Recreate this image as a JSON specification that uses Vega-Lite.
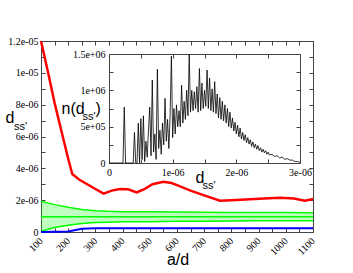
{
  "$schema": "https://vega.github.io/schema/vega-lite/v6.json",
  "width": 272,
  "height": 191,
  "autosize": {"type": "none"},
  "padding": {"left": 41, "top": 41, "right": 40, "bottom": 41},
  "background": "white",
  "config": {
    "view": {"stroke": null},
    "axis": {
      "grid": false,
      "domainColor": "#444",
      "domainWidth": 1,
      "tickColor": "#444",
      "tickSize": -4,
      "labelFont": "Liberation Serif",
      "labelFontSize": 10,
      "labelColor": "black",
      "labelPadding": 8,
      "titleFont": "Liberation Sans",
      "titleFontWeight": "normal",
      "titleFontSize": 16,
      "titleColor": "black",
      "titleAngle": 0,
      "titleAlign": "left",
      "titleBaseline": "alphabetic"
    }
  },
  "datasets": {
    "red": [
      {"a": 100, "v": 12.0e-6}, {"a": 125, "v": 10.1e-6}, {"a": 150, "v": 8.1e-6}, {"a": 180, "v": 6.0e-6},
      {"a": 200, "v": 4.6e-6}, {"a": 215, "v": 3.64e-6}, {"a": 240, "v": 3.3e-6}, {"a": 273, "v": 2.97e-6},
      {"a": 300, "v": 2.7e-6}, {"a": 330, "v": 2.41e-6}, {"a": 360, "v": 2.6e-6}, {"a": 390, "v": 2.7e-6},
      {"a": 420, "v": 2.68e-6}, {"a": 452, "v": 2.49e-6}, {"a": 480, "v": 2.7e-6}, {"a": 510, "v": 3.0e-6},
      {"a": 550, "v": 3.16e-6}, {"a": 580, "v": 3.08e-6}, {"a": 600, "v": 2.95e-6}, {"a": 650, "v": 2.6e-6},
      {"a": 700, "v": 2.3e-6}, {"a": 758, "v": 1.97e-6}, {"a": 800, "v": 2.0e-6}, {"a": 868, "v": 2.05e-6},
      {"a": 920, "v": 2.1e-6}, {"a": 979, "v": 2.15e-6}, {"a": 1030, "v": 2.1e-6}, {"a": 1070, "v": 1.97e-6},
      {"a": 1100, "v": 2.07e-6}
    ],
    "green": [
      {"a": 100, "lo": 0.05e-6, "mid": 0.96e-6, "hi": 1.93e-6},
      {"a": 150, "lo": 0.28e-6, "mid": 0.96e-6, "hi": 1.72e-6},
      {"a": 200, "lo": 0.42e-6, "mid": 0.96e-6, "hi": 1.55e-6},
      {"a": 250, "lo": 0.53e-6, "mid": 0.96e-6, "hi": 1.42e-6},
      {"a": 300, "lo": 0.59e-6, "mid": 0.96e-6, "hi": 1.34e-6},
      {"a": 350, "lo": 0.62e-6, "mid": 0.96e-6, "hi": 1.30e-6},
      {"a": 400, "lo": 0.64e-6, "mid": 0.96e-6, "hi": 1.28e-6},
      {"a": 500, "lo": 0.65e-6, "mid": 0.96e-6, "hi": 1.27e-6},
      {"a": 600, "lo": 0.67e-6, "mid": 0.96e-6, "hi": 1.25e-6},
      {"a": 700, "lo": 0.68e-6, "mid": 0.96e-6, "hi": 1.24e-6},
      {"a": 800, "lo": 0.69e-6, "mid": 0.96e-6, "hi": 1.23e-6},
      {"a": 900, "lo": 0.70e-6, "mid": 0.96e-6, "hi": 1.22e-6},
      {"a": 1000, "lo": 0.70e-6, "mid": 0.96e-6, "hi": 1.22e-6},
      {"a": 1100, "lo": 0.71e-6, "mid": 0.96e-6, "hi": 1.21e-6}
    ],
    "blue": [
      {"a": 100, "v": 0}, {"a": 150, "v": 0.01e-6}, {"a": 200, "v": 0.03e-6}, {"a": 250, "v": 0.21e-6},
      {"a": 300, "v": 0.23e-6}, {"a": 1100, "v": 0.23e-6}
    ],
    "hist": [
      {"d": 0, "n": 0}, {"d": 0.22e-6, "n": 0}, {"d": 0.24e-6, "n": 0.77e6}, {"d": 0.26e-6, "n": 0},
      {"d": 0.38e-6, "n": 0}, {"d": 0.40e-6, "n": 0.42e6}, {"d": 0.42e-6, "n": 0}, {"d": 0.44e-6, "n": 0},
      {"d": 0.46e-6, "n": 0.55e6}, {"d": 0.48e-6, "n": 0}, {"d": 0.50e-6, "n": 0.61e6}, {"d": 0.52e-6, "n": 0.05e6},
      {"d": 0.54e-6, "n": 0.65e6}, {"d": 0.56e-6, "n": 0.02e6}, {"d": 0.58e-6, "n": 0.3e6}, {"d": 0.60e-6, "n": 0.08e6},
      {"d": 0.62e-6, "n": 0.45e6}, {"d": 0.64e-6, "n": 0.77e6}, {"d": 0.66e-6, "n": 0.1e6}, {"d": 0.68e-6, "n": 1.14e6},
      {"d": 0.70e-6, "n": 0.15e6}, {"d": 0.72e-6, "n": 0.4e6}, {"d": 0.74e-6, "n": 0.05e6}, {"d": 0.76e-6, "n": 1.29e6},
      {"d": 0.78e-6, "n": 0.2e6}, {"d": 0.80e-6, "n": 0.45e6}, {"d": 0.82e-6, "n": 0.12e6}, {"d": 0.84e-6, "n": 0.55e6},
      {"d": 0.86e-6, "n": 0.25e6}, {"d": 0.88e-6, "n": 0.89e6}, {"d": 0.90e-6, "n": 0.3e6}, {"d": 0.92e-6, "n": 0.6e6},
      {"d": 0.94e-6, "n": 0.2e6}, {"d": 0.96e-6, "n": 0.65e6}, {"d": 0.98e-6, "n": 1.47e6}, {"d": 1.00e-6, "n": 0.35e6},
      {"d": 1.02e-6, "n": 0.75e6}, {"d": 1.04e-6, "n": 0.4e6}, {"d": 1.06e-6, "n": 0.8e6}, {"d": 1.08e-6, "n": 0.5e6},
      {"d": 1.10e-6, "n": 0.72e6}, {"d": 1.12e-6, "n": 0.5e6}, {"d": 1.14e-6, "n": 1.07e6}, {"d": 1.16e-6, "n": 0.55e6},
      {"d": 1.18e-6, "n": 0.85e6}, {"d": 1.20e-6, "n": 0.6e6}, {"d": 1.22e-6, "n": 1.0e6}, {"d": 1.24e-6, "n": 0.65e6},
      {"d": 1.26e-6, "n": 1.49e6}, {"d": 1.28e-6, "n": 0.7e6}, {"d": 1.30e-6, "n": 1.0e6}, {"d": 1.32e-6, "n": 0.72e6},
      {"d": 1.34e-6, "n": 0.98e6}, {"d": 1.36e-6, "n": 0.75e6}, {"d": 1.38e-6, "n": 1.05e6}, {"d": 1.40e-6, "n": 0.7e6},
      {"d": 1.42e-6, "n": 1.30e6}, {"d": 1.44e-6, "n": 0.72e6}, {"d": 1.46e-6, "n": 1.1e6}, {"d": 1.48e-6, "n": 0.75e6},
      {"d": 1.50e-6, "n": 1.0e6}, {"d": 1.52e-6, "n": 0.78e6}, {"d": 1.54e-6, "n": 1.28e6}, {"d": 1.56e-6, "n": 0.75e6},
      {"d": 1.58e-6, "n": 1.17e6}, {"d": 1.60e-6, "n": 0.72e6}, {"d": 1.62e-6, "n": 1.02e6}, {"d": 1.64e-6, "n": 0.7e6},
      {"d": 1.66e-6, "n": 1.12e6}, {"d": 1.68e-6, "n": 0.68e6}, {"d": 1.70e-6, "n": 0.95e6}, {"d": 1.72e-6, "n": 0.62e6},
      {"d": 1.74e-6, "n": 0.9e6}, {"d": 1.76e-6, "n": 0.6e6}, {"d": 1.78e-6, "n": 0.85e6}, {"d": 1.80e-6, "n": 0.58e6},
      {"d": 1.82e-6, "n": 0.8e6}, {"d": 1.84e-6, "n": 0.55e6}, {"d": 1.86e-6, "n": 0.75e6}, {"d": 1.88e-6, "n": 0.5e6},
      {"d": 1.90e-6, "n": 0.7e6}, {"d": 1.92e-6, "n": 0.48e6}, {"d": 1.94e-6, "n": 0.62e6}, {"d": 1.96e-6, "n": 0.44e6},
      {"d": 1.98e-6, "n": 0.56e6}, {"d": 2.00e-6, "n": 0.40e6}, {"d": 2.02e-6, "n": 0.52e6}, {"d": 2.04e-6, "n": 0.36e6},
      {"d": 2.06e-6, "n": 0.48e6}, {"d": 2.08e-6, "n": 0.33e6}, {"d": 2.10e-6, "n": 0.42e6}, {"d": 2.12e-6, "n": 0.31e6},
      {"d": 2.14e-6, "n": 0.39e6}, {"d": 2.16e-6, "n": 0.28e6}, {"d": 2.18e-6, "n": 0.35e6}, {"d": 2.20e-6, "n": 0.26e6},
      {"d": 2.22e-6, "n": 0.32e6}, {"d": 2.24e-6, "n": 0.23e6}, {"d": 2.26e-6, "n": 0.29e6}, {"d": 2.28e-6, "n": 0.21e6},
      {"d": 2.30e-6, "n": 0.26e6}, {"d": 2.32e-6, "n": 0.19e6}, {"d": 2.34e-6, "n": 0.24e6}, {"d": 2.36e-6, "n": 0.17e6},
      {"d": 2.38e-6, "n": 0.21e6}, {"d": 2.40e-6, "n": 0.15e6}, {"d": 2.42e-6, "n": 0.19e6}, {"d": 2.44e-6, "n": 0.14e6},
      {"d": 2.46e-6, "n": 0.17e6}, {"d": 2.48e-6, "n": 0.12e6}, {"d": 2.50e-6, "n": 0.15e6}, {"d": 2.52e-6, "n": 0.11e6},
      {"d": 2.56e-6, "n": 0.12e6}, {"d": 2.60e-6, "n": 0.09e6}, {"d": 2.64e-6, "n": 0.10e6}, {"d": 2.68e-6, "n": 0.07e6},
      {"d": 2.72e-6, "n": 0.08e6}, {"d": 2.76e-6, "n": 0.05e6}, {"d": 2.80e-6, "n": 0.06e6}, {"d": 2.84e-6, "n": 0.04e6},
      {"d": 2.88e-6, "n": 0.04e6}, {"d": 2.92e-6, "n": 0.02e6}, {"d": 2.96e-6, "n": 0.02e6}, {"d": 3.00e-6, "n": 0.01e6}
    ]
  },
  "layer": [
    {
      "data": {"name": "green"},
      "mark": {"type": "area", "color": "#00ff00", "opacity": 0.25},
      "encoding": {
        "x": {
          "field": "a", "type": "quantitative",
          "scale": {"domain": [100, 1100], "nice": false, "zero": false},
          "axis": {
            "orient": "bottom",
            "values": [100, 150, 200, 250, 300, 350, 400, 450, 500, 550, 600, 650, 700, 750, 800, 850, 900, 950, 1000, 1050, 1100],
            "labelExpr": "datum.value % 100 == 0 ? format(datum.value, 'd') : ''",
            "labelAngle": -45,
            "labelAlign": "right",
            "labelBaseline": "middle",
            "labelPadding": 11,
            "title": "a/d",
            "titleAlign": "center",
            "titleX": 136.5,
            "titleY": 32
          }
        },
        "y": {
          "field": "lo", "type": "quantitative",
          "scale": {"domain": [0, 1.2e-5], "nice": false, "zero": false},
          "axis": {
            "orient": "left",
            "values": [0, 0.000001, 0.000002, 0.000003, 0.000004, 0.000005, 0.000006, 0.000007, 0.000008, 0.000009, 0.00001, 0.000011, 0.000012],
            "labelExpr": "datum.value == 0 ? '0' : (round(datum.value * 1e6) % 2 == 0 ? replace(format(datum.value, '.2~e'), 'e-', 'e-0') : '')",
            "labelPadding": 7,
            "title": "d",
            "titleX": -36,
            "titleY": 81.5
          }
        },
        "y2": {"field": "hi"}
      }
    },
    {
      "data": {"name": "green"},
      "mark": {"type": "line", "color": "#00ff00", "strokeWidth": 1.5},
      "encoding": {
        "x": {"field": "a", "type": "quantitative", "scale": {"domain": [100, 1100], "nice": false, "zero": false}, "axis": null},
        "y": {"field": "lo", "type": "quantitative", "scale": {"domain": [0, 1.2e-5], "nice": false, "zero": false}, "axis": null}
      }
    },
    {
      "data": {"name": "green"},
      "mark": {"type": "line", "color": "#00ff00", "strokeWidth": 1.5},
      "encoding": {
        "x": {"field": "a", "type": "quantitative", "scale": {"domain": [100, 1100], "nice": false, "zero": false}, "axis": null},
        "y": {"field": "mid", "type": "quantitative", "scale": {"domain": [0, 1.2e-5], "nice": false, "zero": false}, "axis": null}
      }
    },
    {
      "data": {"name": "green"},
      "mark": {"type": "line", "color": "#00ff00", "strokeWidth": 1.5},
      "encoding": {
        "x": {"field": "a", "type": "quantitative", "scale": {"domain": [100, 1100], "nice": false, "zero": false}, "axis": null},
        "y": {"field": "hi", "type": "quantitative", "scale": {"domain": [0, 1.2e-5], "nice": false, "zero": false}, "axis": null}
      }
    },
    {
      "data": {"name": "red"},
      "mark": {"type": "line", "color": "#ff0000", "strokeWidth": 2.5},
      "encoding": {
        "x": {"field": "a", "type": "quantitative", "scale": {"domain": [100, 1100], "nice": false, "zero": false}, "axis": null},
        "y": {"field": "v", "type": "quantitative", "scale": {"domain": [0, 1.2e-5], "nice": false, "zero": false}, "axis": null}
      }
    },
    {
      "data": {"name": "blue"},
      "mark": {"type": "line", "color": "#0000ff", "strokeWidth": 2},
      "encoding": {
        "x": {
          "field": "a", "type": "quantitative",
          "scale": {"domain": [100, 1100], "nice": false, "zero": false},
          "axis": {
            "orient": "top",
            "values": [100, 150, 200, 250, 300, 350, 400, 450, 500, 550, 600, 650, 700, 750, 800, 850, 900, 950, 1000, 1050, 1100],
            "labels": false,
            "title": "ss'",
            "titleFontSize": 11,
            "titleX": -27.5,
            "titleY": 88
          }
        },
        "y": {
          "field": "v", "type": "quantitative",
          "scale": {"domain": [0, 1.2e-5], "nice": false, "zero": false},
          "axis": {
            "orient": "right",
            "values": [0, 0.000001, 0.000002, 0.000003, 0.000004, 0.000005, 0.000006, 0.000007, 0.000008, 0.000009, 0.00001, 0.000011, 0.000012],
            "labels": false,
            "title": "ss'",
            "titleFontSize": 11,
            "titleX": -111,
            "titleY": 147
          }
        }
      }
    },
    {
      "data": {"name": "hist"},
      "mark": {"type": "line", "color": "black", "strokeWidth": 0.8},
      "encoding": {
        "x": {
          "field": "d", "type": "quantitative",
          "scale": {"domain": [0, 3e-6], "range": [68, 259], "nice": false, "zero": false},
          "axis": {
            "orient": "bottom",
            "offset": -69,
            "values": [0, 5e-7, 1e-6, 1.5e-6, 2e-6, 2.5e-6, 3e-6],
            "labelExpr": "datum.value == 0 ? '0' : (round(datum.value * 2e6) % 2 == 0 ? replace(format(datum.value, '.0e'), 'e-', 'e-0') : '')",
            "labelPadding": 8,
            "labelFlush": false,
            "title": "d",
            "titleX": 154,
            "titleY": 19
          }
        },
        "y": {
          "field": "n", "type": "quantitative",
          "scale": {"domain": [0, 1.5e6], "range": [122, 13], "nice": false, "zero": false},
          "axis": {
            "orient": "left",
            "offset": -68,
            "values": [0, 250000, 500000, 750000, 1000000, 1250000, 1500000],
            "labelExpr": "datum.value == 0 ? '0' : (datum.value % 500000 == 0 ? replace(format(datum.value, '.2~e'), 'e+', 'e+0') : '')",
            "labelPadding": 8,
            "labelFlush": false,
            "title": "n(d",
            "titleX": -48,
            "titleY": 72
          }
        }
      }
    },
    {
      "data": {"name": "hist"},
      "mark": {"type": "point", "opacity": 0},
      "encoding": {
        "x": {
          "field": "d", "type": "quantitative",
          "scale": {"domain": [0, 3e-6], "range": [68, 259], "nice": false, "zero": false},
          "axis": {
            "orient": "top",
            "offset": -13,
            "values": [0, 5e-7, 1e-6, 1.5e-6, 2e-6, 2.5e-6, 3e-6],
            "labels": false,
            "title": "ss'",
            "titleFontSize": 11,
            "titleX": 41,
            "titleY": 65
          }
        },
        "y": {
          "field": "n", "type": "quantitative",
          "scale": {"domain": [0, 1.5e6], "range": [122, 13], "nice": false, "zero": false},
          "axis": {
            "orient": "right",
            "offset": -13,
            "values": [0, 250000, 500000, 750000, 1000000, 1250000, 1500000],
            "labels": false,
            "title": ")",
            "titleX": -205,
            "titleY": 72
          }
        }
      }
    }
  ],
  "resolve": {
    "scale": {"x": "independent", "y": "independent"},
    "axis": {"x": "independent", "y": "independent"}
  }
}
